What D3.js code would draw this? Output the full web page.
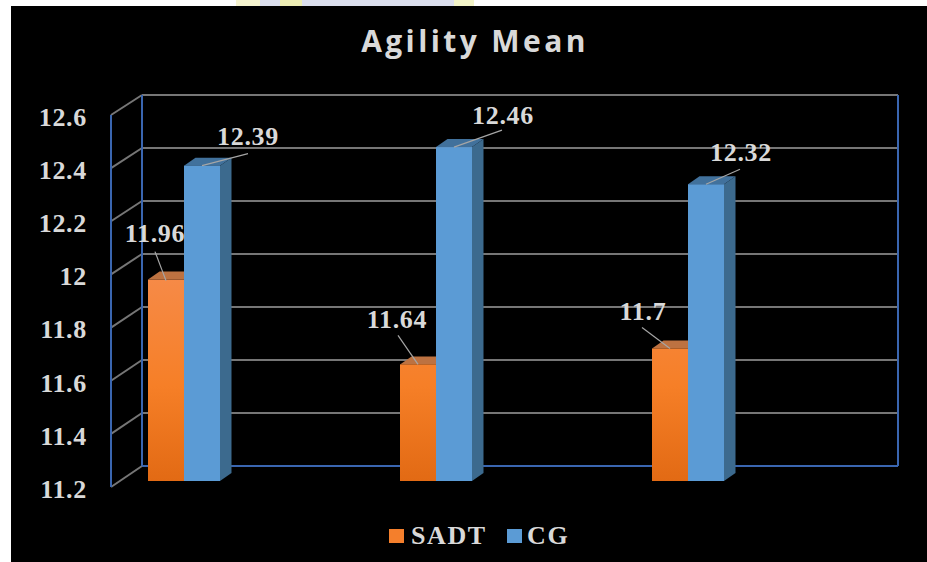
<!DOCTYPE html>
<html>
<head>
<meta charset="utf-8">
<script src="https://cdn.jsdelivr.net/npm/d3@7"></script>
<style>
  html, body { margin: 0; padding: 0; background: #fff; }
  svg { display: block; }
  text { font-family: "Liberation Serif", serif; font-weight: 700; fill: #d9d9d9; }
</style>
</head>
<body>
<svg id="chart" width="927" height="562"></svg>
<script>
// Agility means for three comparisons, two groups each
const groups = ["1", "2", "3"];
const seriesNames = ["SADT", "CG"];
const sadtValues = [11.96, 11.64, 11.7];
const cgValues = [12.39, 12.46, 12.32];
const tickValues = [11.2, 11.4, 11.6, 11.8, 12, 12.2, 12.4, 12.6];

// Data label placement relative to the top of each bar, with leader line ends
const sadtLabelOffsets = [[-11, -46, -11, -28, 0, 1], [-21, -45, -20, -29, 0, 0], [-27, -37, -28, -21, 0, 0]];
const cgLabelOffsets = [[46, -29, 46, -12, 0, 0], [49, -32, 48, -17, 0, 0], [35, -32, 34, -15, 0, 0]];

const svg = d3.select("#chart");
const W = 927, H = 562;

// Soft watermark remnants on the paper above the panel
const paper = svg.append("g");
paper.append("rect").attr("width", W).attr("height", H).attr("fill", "#fff");
paper.append("rect").attr("x", 258).attr("y", 0).attr("width", 196).attr("height", 6).attr("fill", "#dcdfee");
paper.append("rect").attr("x", 236).attr("y", 0).attr("width", 24).attr("height", 6).attr("fill", "#f6f4cf");
paper.append("rect").attr("x", 454).attr("y", 0).attr("width", 20).attr("height", 6).attr("fill", "#f3f4c8");
paper.append("rect").attr("x", 280).attr("y", 0).attr("width", 22).attr("height", 6).attr("fill", "#eeeeb4");

// Black chart panel
svg.append("rect").attr("x", 11).attr("y", 6).attr("width", W - 11).attr("height", H - 6).attr("fill", "#000");

// Scales: the back wall, the front edge of the side wall and the bar fronts
const domain = [11.2, 12.6];
const yBack = d3.scaleLinear().domain(domain).range([466, 95]);
const yWall = d3.scaleLinear().domain(domain).range([487, 115]);
const yBar = d3.scaleLinear().domain(domain).range([481, 110]);
const x = d3.scaleBand().domain(groups).range([142, 898]);
const wallFront = 111, wallBack = x.range()[0], wallRight = x.range()[1];
const barW = 36, barInset = 6, depthX = 11.5, depthY = 8;

const defs = svg.append("defs");
const grad = defs.append("linearGradient").attr("id", "orangeFace")
  .attr("gradientUnits", "userSpaceOnUse")
  .attr("x1", 0).attr("x2", 0).attr("y1", yBar(12)).attr("y2", yBar(11.2));
grad.append("stop").attr("offset", 0).attr("stop-color", "#f68b4a");
grad.append("stop").attr("offset", 0.55).attr("stop-color", "#f67f27");
grad.append("stop").attr("offset", 1).attr("stop-color", "#e26a14");

// Gridlines across the back wall and down the side wall
const grid = svg.append("g");
grid.selectAll("line.back").data(tickValues.slice(1)).join("line").attr("class", "back")
  .attr("x1", wallBack).attr("x2", wallRight)
  .attr("y1", d => yBack(d)).attr("y2", d => yBack(d))
  .attr("stroke", "#767676").attr("stroke-width", 2);
grid.selectAll("line.side").data(tickValues).join("line").attr("class", "side")
  .attr("x1", wallFront).attr("x2", wallBack)
  .attr("y1", d => yWall(d)).attr("y2", d => yBack(d))
  .attr("stroke", "#767676").attr("stroke-width", 2);

// Blue wall outline
const wallBlue = "#3a66b0";
const outline = svg.append("g").attr("stroke", wallBlue).attr("stroke-width", 2).attr("fill", "none");
outline.append("line").attr("x1", wallFront).attr("x2", wallFront).attr("y1", yWall(12.6)).attr("y2", yWall(11.2));
outline.append("line").attr("x1", wallBack).attr("x2", wallBack).attr("y1", yBack(12.6)).attr("y2", yBack(11.2));
outline.append("line").attr("x1", wallRight).attr("x2", wallRight).attr("y1", yBack(12.6)).attr("y2", yBack(11.2));
outline.append("line").attr("x1", wallBack).attr("x2", wallRight).attr("y1", yBack(11.2)).attr("y2", yBack(11.2));

// Value axis along the front edge of the side wall
const axis = svg.append("g").attr("transform", `translate(${wallFront},2)`)
  .call(d3.axisLeft(yWall).tickValues(tickValues).tickSize(0).tickPadding(24).tickFormat(d3.format("~g")));
axis.select(".domain").remove();
axis.selectAll("text")
  .attr("font-size", 26).attr("letter-spacing", 0.7)
  .style("font-family", '"Liberation Serif", serif').style("font-weight", 700).attr("fill", "#d9d9d9");

// Extruded bars: one orange and one blue in every group
function drawBar(g, left, value, front, top, side) {
  const yT = yBar(value), yB = yBar(11.2), right = left + barW;
  const path = pts => d3.line()(pts) + "Z";
  g.append("path").attr("fill", top)
    .attr("d", path([[left, yT], [left + depthX, yT - depthY], [right + depthX, yT - depthY], [right, yT]]));
  g.append("path").attr("fill", side)
    .attr("d", path([[right, yT], [right + depthX, yT - depthY], [right + depthX, yB - depthY], [right, yB]]));
  g.append("rect").attr("x", left).attr("y", yT).attr("width", barW).attr("height", yB - yT).attr("fill", front);
}
const bars = svg.append("g");
groups.forEach((c, i) => {
  const left = x(c) + barInset;
  drawBar(bars, left, sadtValues[i], "url(#orangeFace)", "#bd7241", "#a85c22");
  drawBar(bars, left + barW, cgValues[i], "#5b9bd5", "#41719c", "#3c6a8e");
});

// Value labels with thin leader lines
const labels = svg.append("g");
function drawLabels(values, offsets, barLeft) {
  values.forEach((v, i) => {
    const cx = barLeft(groups[i]) + barW / 2, cy = yBar(v);
    const [lx, ly, ax, ay, bx, by] = offsets[i];
    labels.append("line")
      .attr("x1", cx + ax).attr("y1", cy + ay).attr("x2", cx + bx).attr("y2", cy + by)
      .attr("stroke", "#a6a6a6").attr("stroke-width", 1.2);
    labels.append("text")
      .attr("x", cx + lx).attr("y", cy + ly)
      .attr("text-anchor", "middle").attr("dominant-baseline", "central")
      .attr("font-size", 26).attr("letter-spacing", 0.7)
      .text(v);
  });
}
drawLabels(sadtValues, sadtLabelOffsets, c => x(c) + barInset);
drawLabels(cgValues, cgLabelOffsets, c => x(c) + barInset + barW);

// Title
svg.append("text").attr("x", 475).attr("y", 52).attr("text-anchor", "middle")
  .style("font-family", '"Open Sans", sans-serif').style("font-weight", 700)
  .attr("font-size", 30).attr("letter-spacing", 3.4).text("Agility Mean");

// Legend
const legendColors = ["#f47f2c", "#5b9bd5"];
const legendSwatchX = d3.scalePoint().domain(seriesNames).range([389, 507]);
const legend = svg.append("g").selectAll("g").data(seriesNames).join("g")
  .attr("transform", d => `translate(${legendSwatchX(d)},529)`);
legend.append("rect").attr("width", 15).attr("height", 14).attr("fill", (d, i) => legendColors[i]);
legend.append("text").attr("x", (d, i) => i ? 20 : 22).attr("y", 15)
  .attr("font-size", 26).attr("letter-spacing", 1.6).text(d => d);
</script>
</body>
</html>
